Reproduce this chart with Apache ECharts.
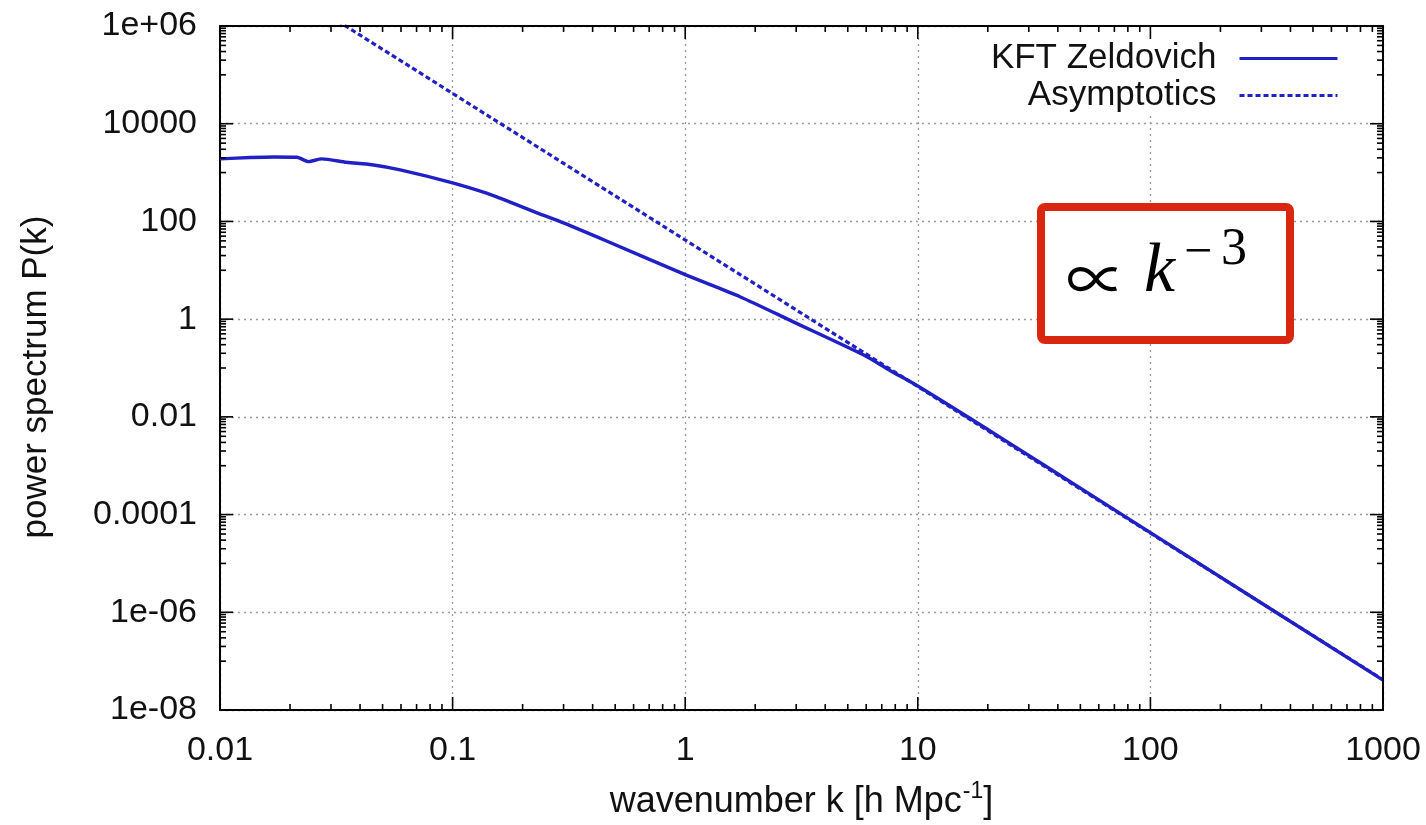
<!DOCTYPE html>
<html><head><meta charset="utf-8">
<script src="https://cdn.jsdelivr.net/npm/echarts@6/dist/echarts.min.js"></script>
<style>html,body{margin:0;padding:0;background:#fff}#c{width:1426px;height:825px}</style>
</head><body><div id="c"></div>
<script>
// ---- data ----
const K_SOLID = [0.01, 0.0135, 0.017, 0.0214, 0.024, 0.0274, 0.035, 0.045, 0.0595, 0.1, 0.14, 0.16, 0.238, 0.282, 0.459, 1, 1.72, 2.9, 5.83, 7.59, 10, 22.8, 50, 100, 1000];
const P_SOLID = [1905, 2028, 2089, 2065, 1679, 1905, 1622, 1445, 1135, 617, 380, 299, 141, 105, 39.8, 8.13, 2.88, 0.891, 0.186, 0.0891, 0.0427, 0.00372, 3.47e-4, 4.27e-5, 4.1e-8];
const K_ASYM = [0.03, 0.1, 1, 10, 100, 1000];
const P_ASYM = [1544000, 41700, 41.7, 0.0417, 4.17e-5, 4.17e-8];
const X_TICKS = [0.01, 0.1, 1, 10, 100, 1000];
const X_LABELS = ['0.01', '0.1', '1', '10', '100', '1000'];
const Y_TICKS = [1e-8, 1e-6, 1e-4, 1e-2, 1, 100, 1e4, 1e6];
const Y_LABELS = ['1e-08', '1e-06', '0.0001', '0.01', '1', '100', '10000', '1e+06'];
const X_MINOR_DECADES = [0.01, 0.1, 1, 10, 100];
const Y_MINOR_DECADES = [1e-7, 1e-5, 1e-3, 1e-1, 10, 1e3, 1e5];
const MINOR_MULT = [2, 3, 4, 5, 6, 7, 8, 9];
const Y_MINOR_MULT = [1, 2, 3, 4, 5, 6, 7, 8, 9];
const SERIES_NAMES = ['KFT Zeldovich', 'Asymptotics'];

const BLUE = '#2020c4';
const FONT = 'Liberation Sans';

function lookup(v, ticks, labels) {
  for (let i = 0; i < ticks.length; i++) {
    if (Math.abs(Math.log10(v) - Math.log10(ticks[i])) < 1e-6) return labels[i];
  }
  return '';
}

const xMajor = X_TICKS.map(v => [v, 13]);
const xMinor = [];
X_MINOR_DECADES.forEach(d => MINOR_MULT.forEach(m => xMinor.push([d * m, 6])));
const yMajor = Y_TICKS.map(v => [v, 13]);
const yMinor = [];
Y_MINOR_DECADES.forEach(d => Y_MINOR_MULT.forEach(m => yMinor.push([d * m, 6])));

const xTickData = xMajor.concat(xMinor);
const yTickData = yMajor.concat(yMinor);

const chart = echarts.init(document.getElementById('c'), null, {renderer: 'canvas'});

const frameAxis = {show: true, lineStyle: {color: '#000', width: 2}};

const option = {
  backgroundColor: '#fff',
  animation: false,
  grid: {left: 220, right: 43, top: 26, bottom: 115, show: false, containLabel: false, outerBoundsMode: 'none'},
  xAxis: [{
    type: 'log', logBase: 10, min: 0.01, max: 1000, splitNumber: 5,
    axisLine: frameAxis,
    axisTick: {show: false},
    axisLabel: {fontFamily: FONT, fontSize: 34, color: '#111', margin: 24,
      formatter: v => lookup(v, X_TICKS, X_LABELS)},
    splitLine: {show: true, lineStyle: {color: '#999', width: 1.3, type: [2, 4]}},
    name: '{a|wavenumber k [h Mpc}{s|-1}{a|]}',
    nameLocation: 'middle', nameGap: 70,
    nameTextStyle: {rich: {
      a: {fontFamily: FONT, fontSize: 36, color: '#111', lineHeight: 40, verticalAlign: 'bottom'},
      s: {fontFamily: FONT, fontSize: 23, color: '#111', lineHeight: 40, verticalAlign: 'top', padding: [0, 0, 0, 1]}
    }}
  }, {
    type: 'log', logBase: 10, min: 0.01, max: 1000, position: 'top', z: 10,
    axisLine: frameAxis, axisTick: {show: false}, axisLabel: {show: false}, splitLine: {show: false}
  }],
  yAxis: [{
    type: 'log', logBase: 100, min: 1e-8, max: 1e6, splitNumber: 7,
    axisLine: frameAxis,
    axisTick: {show: false},
    axisLabel: {fontFamily: FONT, fontSize: 34, color: '#111', margin: 23, padding: [8, 0, 0, 0],
      formatter: v => lookup(v, Y_TICKS, Y_LABELS)},
    splitLine: {show: true, lineStyle: {color: '#999', width: 1.3, type: [2, 4]}},
    name: 'power spectrum P(k)', nameLocation: 'middle', nameGap: 166, nameRotate: 90,
    nameTextStyle: {fontFamily: FONT, fontSize: 35, color: '#111', padding: [0, 18, 0, 0]}
  }, {
    type: 'log', logBase: 100, min: 1e-8, max: 1e6, position: 'right', z: 10,
    axisLine: frameAxis, axisTick: {show: false}, axisLabel: {show: false}, splitLine: {show: false}
  }],
  legend: {
    data: SERIES_NAMES,
    orient: 'vertical', align: 'right', right: 76, top: 27,
    padding: [14, 11, 3, 24], backgroundColor: '#fff',
    itemWidth: 98, itemHeight: 34, itemGap: 2,
    itemStyle: {opacity: 0},
    lineStyle: {width: 3},
    textStyle: {fontFamily: FONT, fontSize: 35, color: '#111', padding: [0, 18, 0, 0]},
    selectedMode: false
  },
  series: [
    {
      name: SERIES_NAMES[0], type: 'line', showSymbol: false, symbol: 'none', smooth: 0.25,
      lineStyle: {color: BLUE, width: 3.4}, itemStyle: {color: BLUE}, z: 5,
      data: K_SOLID.map((k, i) => [k, P_SOLID[i]])
    },
    {
      name: SERIES_NAMES[1], type: 'line', showSymbol: false, symbol: 'none', smooth: false,
      lineStyle: {color: BLUE, width: 3.2, type: [5, 3]}, itemStyle: {color: BLUE}, z: 4,
      data: K_ASYM.map((k, i) => [k, P_ASYM[i]])
    },
    {
      type: 'custom', silent: true, z: 6, clip: false,
      data: xTickData,
      renderItem: (params, api) => {
        const v = api.value(0), len = api.value(1);
        const b = api.coord([v, 1e-8]);
        const t = api.coord([v, 1e6]);
        const st = {stroke: '#000', lineWidth: 1.6};
        return {type: 'group', children: [
          {type: 'line', shape: {x1: b[0], y1: b[1], x2: b[0], y2: b[1] - len}, style: st},
          {type: 'line', shape: {x1: t[0], y1: t[1], x2: t[0], y2: t[1] + len}, style: st}
        ]};
      }
    },
    {
      type: 'custom', silent: true, z: 6, clip: false,
      data: yTickData.map(d => [1, d[0], d[1]]),
      renderItem: (params, api) => {
        const v = api.value(1), len = api.value(2);
        const l = api.coord([0.01, v]);
        const r = api.coord([1000, v]);
        const st = {stroke: '#000', lineWidth: 1.6};
        return {type: 'group', children: [
          {type: 'line', shape: {x1: l[0], y1: l[1], x2: l[0] + len, y2: l[1]}, style: st},
          {type: 'line', shape: {x1: r[0], y1: r[1], x2: r[0] - len, y2: r[1]}, style: st}
        ]};
      }
    }
  ],
  graphic: [
    {type: 'rect', z: 100, shape: {x: 1041, y: 207, width: 249, height: 133, r: 4},
      style: {fill: '#fff', stroke: '#d9260e', lineWidth: 8}},
    {type: 'text', z: 101, x: 1066, y: 279, style: {text: '\u221D', font: '60px "Noto Sans CJK JP"', fill: '#000', verticalAlign: 'middle', align: 'left'}},
    {type: 'text', z: 101, x: 1144, y: 273, style: {text: 'k', font: 'italic 70px "Liberation Serif"', fill: '#000', verticalAlign: 'middle', align: 'left'}},
    {type: 'text', z: 101, x: 1184, y: 254, style: {text: '\u2212', font: '50px "Liberation Serif"', fill: '#000', verticalAlign: 'middle', align: 'left'}},
    {type: 'text', z: 101, x: 1221, y: 250, style: {text: '3', font: '52px "Liberation Serif"', fill: '#000', verticalAlign: 'middle', align: 'left'}}
  ]
};
chart.setOption(option);
</script>
</body></html>
